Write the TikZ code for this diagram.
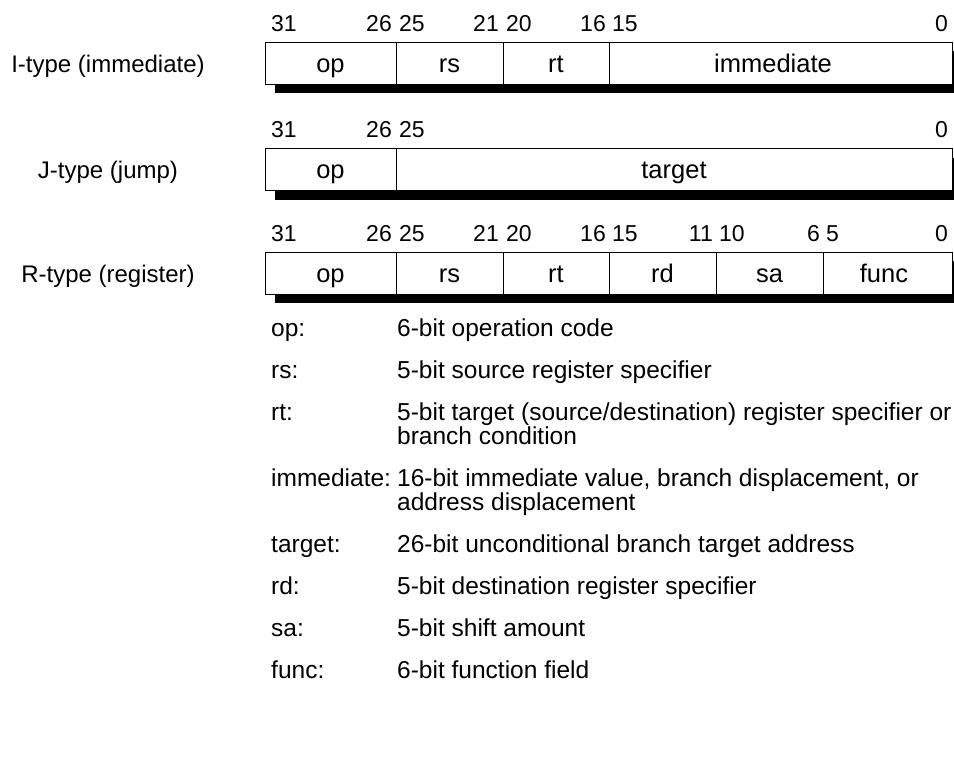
\documentclass[tikz,border=0pt]{standalone}
\usepackage{fontspec}
\setmainfont{Liberation Sans}
\begin{document}
\begin{tikzpicture}[x=1pt,y=-1pt,
  num/.style={font=\fontsize{23}{27}\selectfont, inner sep=0pt},
  fld/.style={font=\fontsize{25.5}{29}\selectfont, inner sep=0pt, anchor=base},
  lbl/.style={font=\fontsize{24}{28}\selectfont, inner sep=0pt, anchor=base},
  leg/.style={font=\fontsize{24.5}{25}\selectfont, inner sep=0pt, anchor=base west},
  shadowbar/.style={fill=black},
  frame/.style={draw=black, line width=1pt, fill=white},
  divider/.style={draw=black, line width=1pt}]
\clip (0,0) rectangle (954,769);
\fill[white] (0,0) rectangle (954,769);

% ---------- I-type ----------
\fill[shadowbar] (275,51) rectangle (962,93);
\draw[frame] (265,42) rectangle (952,84);
\draw[divider] (396,42) -- (396,84);
\draw[divider] (503,42) -- (503,84);
\draw[divider] (609,42) -- (609,84);
\node[lbl] (ilbl) at (108,72.3) {I-type (immediate)};
\node[fld] (iop) at (330.5,72) {op};
\node[fld] (irs) at (449.5,72) {rs};
\node[fld] (irt) at (556,72) {rt};
\node[fld] (iimm) at (773,72) {immediate};
\node[num,anchor=base west] (i31) at (271,31) {31};
\node[num,anchor=base east] (i26) at (392,31) {26};
\node[num,anchor=base west] (i25) at (399,31) {25};
\node[num,anchor=base east] (i21) at (499,31) {21};
\node[num,anchor=base west] (i20) at (506,31) {20};
\node[num,anchor=base east] (i16) at (606,31) {16};
\node[num,anchor=base west] (i15) at (612,31) {15};
\node[num,anchor=base east] (i0) at (948,31) {0};

% ---------- J-type ----------
\fill[shadowbar] (275,157.5) rectangle (962,199.5);
\draw[frame] (265,148.5) rectangle (952,190.5);
\draw[divider] (396,148.5) -- (396,190.5);
\node[lbl] (jlbl) at (108,178.8) {J-type (jump)};
\node[fld] (jop) at (330.5,178.5) {op};
\node[fld] (jtgt) at (674,178.5) {target};
\node[num,anchor=base west] (j31) at (271,137.5) {31};
\node[num,anchor=base east] (j26) at (392,137.5) {26};
\node[num,anchor=base west] (j25) at (399,137.5) {25};
\node[num,anchor=base east] (j0) at (948,137.5) {0};

% ---------- R-type ----------
\fill[shadowbar] (275,261) rectangle (962,303);
\draw[frame] (265,252) rectangle (952,294);
\draw[divider] (396,252) -- (396,294);
\draw[divider] (503,252) -- (503,294);
\draw[divider] (609,252) -- (609,294);
\draw[divider] (716,252) -- (716,294);
\draw[divider] (823,252) -- (823,294);
\node[lbl] (rlbl) at (108,282.5) {R-type (register)};
\node[fld] (rop) at (330.5,282) {op};
\node[fld] (rrs) at (449.5,282) {rs};
\node[fld] (rrt) at (556,282) {rt};
\node[fld] (rrd) at (662.5,282) {rd};
\node[fld] (rsa) at (769.5,282) {sa};
\node[fld] (rfn) at (884,282) {func};
\node[num,anchor=base west] (r31) at (271,241) {31};
\node[num,anchor=base east] (r26) at (392,241) {26};
\node[num,anchor=base west] (r25) at (399,241) {25};
\node[num,anchor=base east] (r21) at (499,241) {21};
\node[num,anchor=base west] (r20) at (506,241) {20};
\node[num,anchor=base east] (r16) at (606,241) {16};
\node[num,anchor=base west] (r15) at (612,241) {15};
\node[num,anchor=base east] (r11) at (713,241) {11};
\node[num,anchor=base west] (r10) at (719,241) {10};
\node[num,anchor=base east] (r6) at (820,241) {6};
\node[num,anchor=base west] (r5) at (826,241) {5};
\node[num,anchor=base east] (r0) at (948,241) {0};

% ---------- legend ----------
\node[leg] (kop) at (271,336) {op:};
\node[leg] (dop) at (397,336) {6-bit operation code};
\node[leg] (krs) at (271,378) {rs:};
\node[leg] (drs) at (397,378) {5-bit source register specifier};
\node[leg] (krt) at (271,420) {rt:};
\node[leg] (drt) at (397,420) {5-bit target (source/destination) register specifier or};
\node[leg] (drt2) at (397,444) {branch condition};
\node[leg] (kimm) at (271,486) {immediate:};
\node[leg] (dimm) at (397,486) {16-bit immediate value, branch displacement, or};
\node[leg] (dimm2) at (397,510) {address displacement};
\node[leg] (ktgt) at (271,552) {target:};
\node[leg] (dtgt) at (397,552) {26-bit unconditional branch target address};
\node[leg] (krd) at (271,594) {rd:};
\node[leg] (drd) at (397,594) {5-bit destination register specifier};
\node[leg] (ksa) at (271,636) {sa:};
\node[leg] (dsa) at (397,636) {5-bit shift amount};
\node[leg] (kfn) at (271,678) {func:};
\node[leg] (dfn) at (397,678) {6-bit function field};
\end{tikzpicture}
\end{document}
